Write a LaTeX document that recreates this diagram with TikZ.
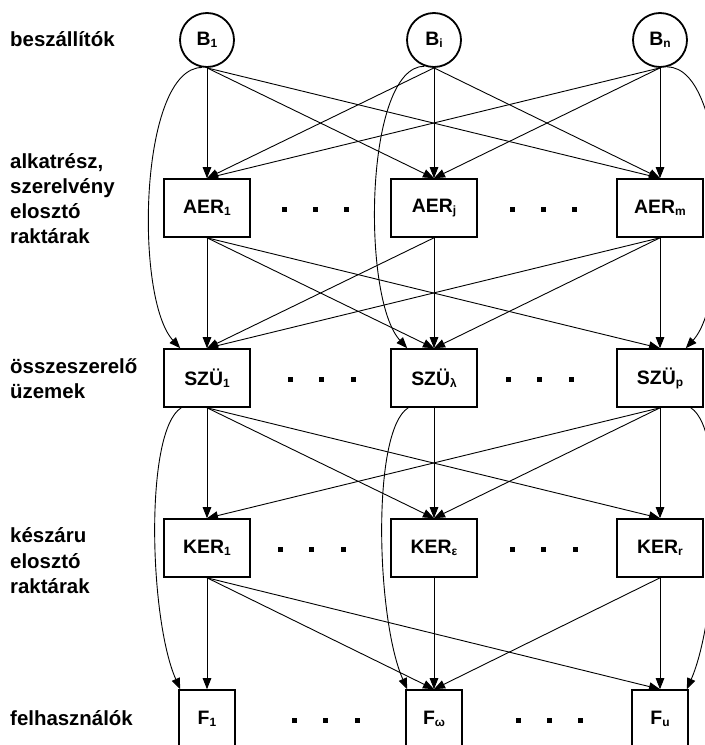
\documentclass[tikz,border=0pt]{standalone}
\usepackage{fontspec}
\setmainfont{Liberation Sans}
\usetikzlibrary{arrows.meta}

% small lowered index for the node names
\newcommand\idx[1]{\raisebox{-2bp}{\fontsize{12}{12}\selectfont #1}}

\begin{document}
\begin{tikzpicture}[x=1bp,y=-1bp,
  unit/.style={draw,line width=1.6bp,minimum width=86bp,minimum height=58bp,
    inner sep=0pt,font=\fontsize{19.5}{20}\selectfont\bfseries},
  enduser/.style={unit,minimum width=56bp},
  supplier/.style={draw,circle,line width=1.8bp,minimum size=54bp,inner sep=0pt,
    font=\fontsize{19.5}{20}\selectfont\bfseries},
  flow/.style={line width=0.9bp,-{Triangle[length=11bp,width=8.5bp]}},
  dotmark/.style={fill,minimum size=5bp,inner sep=0pt},
  tier/.style={anchor=base west,inner sep=0pt,font=\fontsize{20.5}{25}\selectfont\bfseries}]

\useasboundingbox (0,0) rectangle (705,745);

% ---- tier labels
\node[tier] (t1)  at (10,47)  {beszállítók};
\node[tier] (t2a) at (10,168) {alkatrész,};
\node[tier] (t2b) at (10,193) {szerelvény};
\node[tier] (t2c) at (10,218) {elosztó};
\node[tier] (t2d) at (10,243) {raktárak};
\node[tier] (t3a) at (10,373) {összeszerelő};
\node[tier] (t3b) at (10,398) {üzemek};
\node[tier] (t4a) at (10,542) {készáru};
\node[tier] (t4b) at (10,568) {elosztó};
\node[tier] (t4c) at (10,593) {raktárak};
\node[tier] (t5)  at (10,725) {felhasználók};

% ---- suppliers
\node[supplier] (B1) at (207,40) {B\idx{1}};
\node[supplier] (Bi) at (434,40) {B\idx{i}};
\node[supplier] (Bn) at (660,40) {B\idx{n}};

% ---- part distribution warehouses
\node[unit] (A1) at (207,208) {AER\idx{1}};
\node[unit] (Aj) at (434,208) {AER\idx{j}};
\node[unit] (Am) at (660,208) {AER\idx{m}};

% ---- assembly plants
\node[unit] (S1) at (207,378) {SZÜ\idx{1}};
\node[unit] (Sl) at (434,378) {SZÜ\idx{λ}};
\node[unit] (Sp) at (660,378) {SZÜ\idx{p}};

% ---- finished goods warehouses
\node[unit] (K1) at (207,548) {KER\idx{1}};
\node[unit] (Ke) at (434,548) {KER\idx{ε}};
\node[unit] (Kr) at (660,548) {KER\idx{r}};

% ---- users
\node[enduser] (F1) at (207,719) {F\idx{1}};
\node[enduser] (Fw) at (434,719) {F\idx{ω}};
\node[enduser] (Fu) at (660,719) {F\idx{u}};

% ---- ellipsis marks between the units
\foreach \xa/\xb/\xc/\xd/\xe/\xf/\yy/\nm in {
  284/315/346/512/543/574/209/a,
  290/321/353/508/539/571/379/s,
  280/311/343/512/543/575/549/k,
  294/325/357/518/549/580/720/f}{
  \node[dotmark] (d\nm1) at (\xa,\yy) {};
  \node[dotmark] (d\nm2) at (\xb,\yy) {};
  \node[dotmark] (d\nm3) at (\xc,\yy) {};
  \node[dotmark] (d\nm4) at (\xd,\yy) {};
  \node[dotmark] (d\nm5) at (\xe,\yy) {};
  \node[dotmark] (d\nm6) at (\xf,\yy) {};
}

% ---- suppliers -> part warehouses
\foreach \s in {B1,Bi,Bn}
  \foreach \t in {A1,Aj,Am}
    \draw[flow] (\s.south) -- (\t.north);

% ---- part warehouses -> assembly plants
\foreach \s/\t in {A1/S1,A1/Sl,A1/Sp,Aj/S1,Aj/Sl,Am/S1,Am/Sl,Am/Sp}
  \draw[flow] (\s.south) -- (\t.north);

% ---- assembly plants -> finished goods warehouses
\foreach \s/\t in {S1/K1,S1/Ke,S1/Kr,Sl/Ke,Sp/K1,Sp/Ke,Sp/Kr}
  \draw[flow] (\s.south) -- (\t.north);

% ---- finished goods warehouses -> users
\foreach \s/\t in {K1/F1,K1/Fw,K1/Fu,Ke/Fw,Kr/Fw,Kr/Fu}
  \draw[flow] (\s.south) -- (\t.north);

% ---- direct deliveries skipping the warehouses
\draw[flow] (B1.260) .. controls +(-63,0) and +(-46,-50) .. ([xshift=17bp]S1.north west);
\draw[flow] (Bi.250) .. controls +(-60,0) and +(-46,-50) .. ([xshift=17bp]Sl.north west);
\draw[flow] (Bn.285) .. controls +(63,0) and +(46,-50) .. ([xshift=-18bp]Sp.north east);

\draw[flow] ([xshift=18bp]S1.south west) .. controls +(-37,23) and +(-31,-70) .. ([xshift=2bp]F1.north west);
\draw[flow] ([xshift=18bp]Sl.south west) .. controls +(-37,23) and +(-31,-70) .. ([xshift=2bp]Fw.north west);
\draw[flow] ([xshift=-13bp]Sp.south east) .. controls +(37,23) and +(31,-70) .. ([xshift=-2bp]Fu.north east);

\end{tikzpicture}
\end{document}
